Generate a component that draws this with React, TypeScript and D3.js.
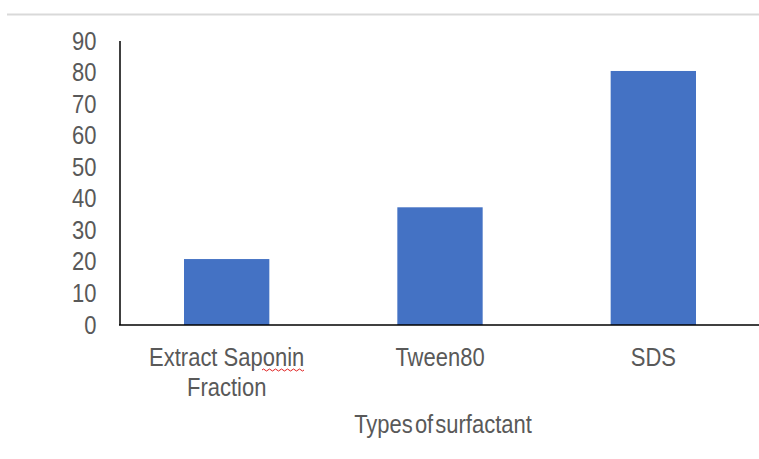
import React from "react";
import * as d3 from "d3";

const categories = ["Extract Saponin|Fraction", "Tween80", "SDS"];
const values = [20.9, 37.3, 80.5];
const yTicks = [0, 10, 20, 30, 40, 50, 60, 70, 80, 90];
const xTitle = "Types of surfactant";

const SY = 1.2;

function T({ x, y, anchor, children, ws }: { x: number; y: number; anchor: string; children: React.ReactNode; ws?: number }) {
  return (
    <text transform={`translate(${x},${y}) scale(1,${SY})`} textAnchor={anchor} fontSize={22} fill="#595959" wordSpacing={ws}>
      {children}
    </text>
  );
}

export default function App() {
  const W = 759, H = 459;
  const x = d3.scaleBand<string>().domain(categories).range([120, 760]).paddingInner(0.6).paddingOuter(0.3);
  const y = d3.scaleLinear().domain([0, 90]).range([325, 41]);
  const font = "Arial, 'Liberation Sans', sans-serif";
  return (
    <svg width={W} height={H} style={{ position: "absolute", left: 0, top: 0, background: "#fff" }} fontFamily={font}>
      <line x1={7} x2={759} y1={14.5} y2={14.5} stroke="#d9d9d9" strokeWidth={2} />
      {categories.map((c, i) => (
        <rect key={c} x={x(c)} y={y(values[i])} width={x.bandwidth()} height={y(0) - y(values[i])} fill="#4472C4" />
      ))}
      <line x1={120} x2={120} y1={y(90)} y2={y(0)} stroke="#000" strokeWidth={1.5} />
      <line x1={119} x2={759} y1={y(0)} y2={y(0)} stroke="#000" strokeWidth={1.5} />
      {yTicks.map((t) => (
        <T key={t} x={96.5} y={y(t) + 8.5} anchor="end">{t}</T>
      ))}
      {categories.map((c) => {
        const lines = c.split("|");
        const cx = (x(c) as number) + x.bandwidth() / 2;
        return (
          <g key={c}>
            {lines.map((l, j) => (
              <T key={j} x={cx} y={366 + j * 30} anchor="middle">{l}</T>
            ))}
          </g>
        );
      })}
      <path d="M262,370 q1.5,-2 3,0 t3,0 t3,0 t3,0 t3,0 t3,0 t3,0 t3,0 t3,0 t3,0 t3,0 t3,0 t3,0 t3,0" fill="none" stroke="#e02020" strokeWidth={1} />
      <T x={443} y={433} anchor="middle" ws={-4}>{xTitle}</T>
    </svg>
  );
}
